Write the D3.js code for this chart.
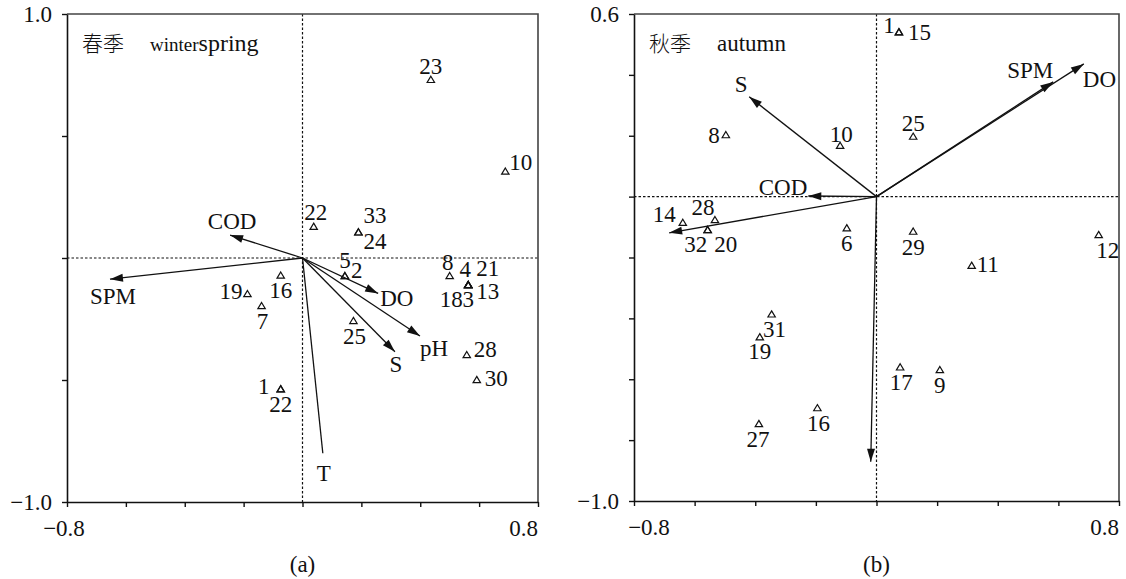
<!DOCTYPE html>
<html>
<head>
<meta charset="utf-8">
<script src="https://cdn.jsdelivr.net/npm/d3@7"></script>
<style>
  body { margin: 0; background: #fff; }
  text { font-family: "Liberation Serif", "Times New Roman", serif; fill: #111; }
  .cjk { font-family: "Noto Sans CJK SC", sans-serif; font-weight: 300; }
</style>
</head>
<body>
<div id="chart"></div>
<script>
// ---- panel (a): winter/spring ----
const sitesA  = ["23","10","22","33","24","5","2","8","4","21","13","18","3","28","30","25","16","19","7","1","22"];
const siteXA  = [0.436,0.689,0.038,0.190,0.190,0.144,0.144,0.500,0.563,0.563,0.563,0.563,0.563,0.558,0.592,0.173,-0.074,-0.187,-0.139,-0.074,-0.074];
const siteYA  = [0.730,0.354,0.128,0.105,0.105,-0.074,-0.074,-0.074,-0.111,-0.111,-0.111,-0.111,-0.111,-0.398,-0.500,-0.258,-0.072,-0.148,-0.197,-0.538,-0.538];
const envA    = ["COD","SPM","DO","pH","S","T"];
const envXA   = [-0.246,-0.654,0.257,0.399,0.314,0.069];
const envYA   = [0.094,-0.087,-0.145,-0.320,-0.384,-0.800];
const xTicksA = [-0.8,-0.6,-0.4,-0.2,0,0.2,0.4,0.6,0.8];
const yTicksA = [-1.0,-0.5,0,0.5,1.0];

// ---- panel (b): autumn ----
const sitesB  = ["1","15","25","29","11","12","17","9","8","10","6","14","28","32","20","31","19","27","16"];
const siteXB  = [0.074,0.074,0.121,0.121,0.314,0.733,0.078,0.209,-0.497,-0.120,-0.098,-0.639,-0.533,-0.557,-0.557,-0.346,-0.385,-0.388,-0.195];
const siteYB  = [0.540,0.540,0.197,-0.115,-0.227,-0.126,-0.561,-0.570,0.202,0.167,-0.104,-0.086,-0.077,-0.110,-0.110,-0.387,-0.462,-0.747,-0.695];
const envB    = ["S","COD","","SPM","DO",""];
const envXB   = [-0.420,-0.225,-0.684,0.583,0.684,-0.019];
const envYB   = [0.328,0.002,-0.119,0.377,0.436,-0.871];
const xTicksB = [-0.8,-0.6,-0.4,-0.2,0,0.2,0.4,0.6,0.8];
const yTicksB = [-1.0,-0.8,-0.6,-0.4,-0.2,0,0.2,0.4,0.6];

// label placement (dx, dy from the mark, text-anchor)
const siteLabA = [[0,-6,"middle"],[4,-2,"start"],[2,-7,"middle"],[5,-9,"start"],[5,17,"start"],[0,-8,"middle"],[6,2,"start"],[-2,-6,"middle"],[-3,-8,"middle"],[8,-9,"start"],[8,14,"start"],[-17,22,"middle"],[0,22,"middle"],[7,2,"start"],[8,6,"start"],[1,23,"middle"],[0,22,"middle"],[-5,5,"end"],[1,23,"middle"],[-17,5,"middle"],[0,23,"middle"]];
const envLabA  = [[2,-6,"middle"],[3,25,"middle"],[2,13,"start"],[0,20,"start"],[1,20,"middle"],[1,28,"middle"]];
const siteLabB = [[-10,1,"middle"],[9,8,"start"],[0,-6,"middle"],[0,23,"middle"],[5,6,"start"],[9,23,"middle"],[1,23,"middle"],[0,23,"middle"],[-6,8,"end"],[1,-4,"middle"],[0,23,"middle"],[-7,-1,"end"],[-12,-5,"middle"],[-12,22,"middle"],[18,22,"middle"],[3,23,"middle"],[0,22,"middle"],[-1,23,"middle"],[1,23,"middle"]];
const envLabB  = [[-8,-5,"middle"],[-1,-1,"end"],[0,0,"middle"],[0,-4,"end"],[-1,23,"start"],[0,0,"middle"]];

const width = 1126, height = 579, fs = 23;

const svg = d3.select("#chart").append("svg")
  .attr("width", width)
  .attr("height", height);

function drawPanel(p) {
  const x = d3.scaleLinear().domain([-0.8, 0.8]).range(p.xr);
  const y = d3.scaleLinear().domain(p.yd).range(p.yr);
  const g = svg.append("g");

  // zero lines
  g.append("line").attr("x1", x(0)).attr("x2", x(0)).attr("y1", p.yr[1]).attr("y2", p.yr[0])
    .attr("stroke", "#111").attr("stroke-width", 1.2).attr("stroke-dasharray", "2.5,2");
  g.append("line").attr("x1", p.xr[0]).attr("x2", p.xr[1]).attr("y1", y(0)).attr("y2", y(0))
    .attr("stroke", "#111").attr("stroke-width", 1.2).attr("stroke-dasharray", "2.5,2");

  // top & right frame
  g.append("path")
    .attr("d", `M${p.xr[0]},${p.yr[1]}H${p.xr[1]}V${p.yr[0]}`)
    .attr("fill", "none").attr("stroke", "#444").attr("stroke-width", 1.6);

  // axes
  const ax = g.append("g").attr("transform", `translate(0,${p.yr[0]})`)
    .call(d3.axisBottom(x).tickValues(p.xt).tickSize(5).tickSizeOuter(0).tickFormat(""));
  const ay = g.append("g").attr("transform", `translate(${p.xr[0]},0)`)
    .call(d3.axisLeft(y).tickValues(p.yt).tickSize(5).tickSizeOuter(0).tickFormat(""));
  [ax, ay].forEach(a => {
    a.select(".domain").attr("stroke", "#111").attr("stroke-width", 1.6);
    a.selectAll(".tick line").attr("stroke", "#111").attr("stroke-width", 1.4);
  });

  // end tick labels
  g.append("text").attr("x", p.xr[0] - 15).attr("y", y(p.yd[1]) + 8).attr("text-anchor", "end")
    .style("font-size", fs + "px").text(d3.format(".1f")(p.yd[1]).replace("-", "\u2212"));
  g.append("text").attr("x", p.xr[0] - 15).attr("y", y(p.yd[0]) + 8).attr("text-anchor", "end")
    .style("font-size", fs + "px").text(d3.format(".1f")(p.yd[0]).replace("-", "\u2212"));
  g.append("text").attr("x", x(-0.8) + p.lx).attr("y", p.yr[0] + 34).attr("text-anchor", "middle")
    .style("font-size", fs + "px").text("\u22120.8");
  g.append("text").attr("x", x(0.8)).attr("y", p.yr[0] + 34).attr("text-anchor", "end")
    .style("font-size", fs + "px").text("0.8");

  // panel caption
  g.append("text").attr("x", x(0)).attr("y", 572).attr("text-anchor", "middle")
    .style("font-size", fs + "px").text(p.cap);

  // title
  const t = g.append("text").attr("x", p.xr[0] + 15).attr("y", 51);
  t.append("tspan").attr("class", "cjk").style("font-size", "21px").text(p.cn);
  p.en.forEach((e, i) => {
    t.append("tspan").attr("dx", i === 0 ? 26 : 0).style("font-size", e[1] + "px").text(e[0]);
  });

  // arrows
  const ox = x(0), oy = y(0);
  p.ex.forEach((vx, i) => {
    const tx = x(vx), ty = y(p.ey[i]);
    g.append("line").attr("x1", ox).attr("y1", oy).attr("x2", tx).attr("y2", ty)
      .attr("stroke", "#111").attr("stroke-width", 1.3);
    if (p.noHead.indexOf(i) < 0) {
      const L = Math.hypot(tx - ox, ty - oy), ux = (tx - ox) / L, uy = (ty - oy) / L;
      const bx = tx - ux * 13, by = ty - uy * 13;
      g.append("path")
        .attr("d", `M${tx},${ty}L${bx - uy * 4},${by + ux * 4}L${bx + uy * 4},${by - ux * 4}Z`)
        .attr("fill", "#111");
    }
    if (p.en2[i]) {
      const o = p.el[i];
      g.append("text").attr("x", tx + o[0]).attr("y", ty + o[1]).attr("text-anchor", o[2])
        .style("font-size", fs + "px").text(p.en2[i]);
    }
  });

  // sites
  p.sx.forEach((vx, i) => {
    const cx = x(vx), cy = y(p.sy[i]);
    g.append("path")
      .attr("d", `M${cx},${cy - 3.6}L${cx + 3.7},${cy + 2.6}L${cx - 3.7},${cy + 2.6}Z`)
      .attr("fill", "none").attr("stroke", "#111").attr("stroke-width", 1.2);
    const o = p.sl[i];
    g.append("text").attr("x", cx + o[0]).attr("y", cy + o[1]).attr("text-anchor", o[2])
      .style("font-size", fs + "px").text(p.sn[i]);
  });
}

drawPanel({
  xr: [67, 538], yr: [502, 14], yd: [-1, 1], xt: xTicksA, yt: yTicksA, lx: -3,
  cap: "(a)", cn: "春季", en: [["winter", 19], ["spring", 24]],
  sn: sitesA, sx: siteXA, sy: siteYA, sl: siteLabA,
  en2: envA, ex: envXA, ey: envYA, el: envLabA, noHead: [5]
});

drawPanel({
  xr: [634, 1119], yr: [501, 14], yd: [-1, 0.6], xt: xTicksB, yt: yTicksB, lx: 15,
  cap: "(b)", cn: "秋季", en: [["autumn", 23]],
  sn: sitesB, sx: siteXB, sy: siteYB, sl: siteLabB,
  en2: envB, ex: envXB, ey: envYB, el: envLabB, noHead: []
});
</script>
</body>
</html>
